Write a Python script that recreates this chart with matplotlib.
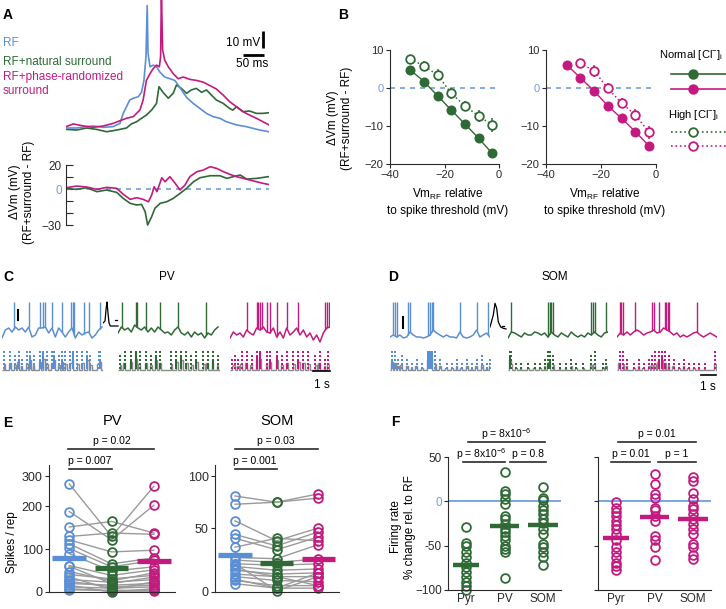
import numpy as np
import matplotlib
matplotlib.use('Agg')
import matplotlib.pyplot as plt

plt.rcParams['font.family'] = ['Liberation Sans', 'DejaVu Sans']
plt.rcParams['mathtext.default'] = 'regular'
plt.rcParams['axes.linewidth'] = 0.8

W, H = 726, 609
BLUE = '#5b8fd5'; GREEN = '#2f6a36'; MAG = '#c41a80'; ZB = '#6f9fdc'
GRAY = '#9a9a9a'; DARK = '#2a2a2a'

# ---------------- Panel A data (ms, mV) ----------------
a_blue_t = [0, 26, 51, 67, 92, 116, 133, 141, 149, 157, 166, 178, 186, 192, 197, 200, 202, 207, 215, 223,
            231, 243, 256, 268, 280, 297, 313, 330, 346, 362, 379, 395, 420, 444, 477, 500]
a_blue_v = [0, 0, 0.8, 1.2, 0.4, 0.8, 2.7, 8.6, 12.5, 16.5, 17.5, 18.4, 21, 28, 42, 72, 44, 36, 37, 36,
            33, 30, 29, 28, 24, 18, 14.5, 11.5, 8.6, 6.7, 5.7, 3.7, 1.8, 0.8, -1.2, -2.2]
a_mag_t = [0, 18, 43, 67, 92, 116, 133, 149, 166, 182, 190, 198, 207, 215, 223, 230, 233, 235, 238, 243,
           252, 264, 276, 289, 305, 321, 338, 354, 370, 387, 403, 420, 436, 452, 469, 485, 500]
a_mag_v = [0.8, 2.4, 1.2, 0.4, 1.2, 2.7, 4.3, 5.7, 6.7, 10.6, 16.5, 28, 32, 35, 37, 36, 42, 80, 46, 40,
           36, 32, 29, 30, 28.6, 28, 27, 25, 23, 19.4, 15.5, 12.5, 9.6, 7.6, 5.7, 3.7, 1.8]
a_green_t = [0, 26, 51, 75, 100, 125, 149, 161, 174, 186, 198, 211, 223, 229, 239, 252, 264, 272, 284, 297,
             309, 321, 334, 346, 358, 370, 387, 403, 411, 420, 436, 452, 469, 485, 500]
a_green_v = [-0.8, -1.2, 0, -0.8, -2.2, -1.2, 0, 2.4, 3.7, 5.7, 7.6, 10.6, 14.5, 24.3, 21, 17.5, 20.4, 25.3, 23.3, 20.4,
             22.4, 23.3, 21, 22.4, 19.4, 16.5, 14.5, 11.5, 10.5, 12.5, 9.6, 10, 8.6, 8.6, 9]

d_green_t = [0, 26, 51, 76, 100, 125, 141, 158, 174, 186, 195, 201, 211, 219, 232, 248, 264, 281, 297, 314,
             330, 355, 379, 396, 412, 429, 445, 470, 498]
d_green_v = [0.6, -0.3, 1.1, -2.2, -0.8, -2.8, -7.8, -11.9, -13.3, -12.8, -18.9, -30, -23, -16, -11.9, -10.6,
             -7.8, -3.6, 0.6, 6.1, 9.4, 11.1, 11.1, 8.9, 10.3, 11.7, 8.3, 8.9, 10.3]
d_mag_t = [0, 26, 51, 76, 100, 125, 141, 158, 174, 190, 203, 211, 217, 224, 236, 244, 256, 269, 281, 293,
           305, 322, 338, 355, 371, 388, 404, 420, 437, 462, 486, 498]
d_mag_v = [1.1, 2.5, 1.7, -0.3, 1.4, 0.6, -4.4, -8.6, -7.2, -8.6, -10.6, -5, 1.9, -2.2, 9.4, 6.1, 10.3, 4.7,
           -0.8, 3.3, 10.3, 14.4, 15.8, 18.6, 17.2, 14.4, 12.2, 10.3, 8.9, 6.7, 4.7, 3.9]

# ---------------- Panel B data ----------------
b_x = [-32.5, -27.5, -22.5, -17.5, -12.5, -7.5, -2.5]
b_green_norm = [4.7, 1.7, -2.1, -5.8, -9.5, -13.2, -17.2]
b_green_high = [7.6, 5.8, 3.4, -1.4, -4.7, -7.4, -9.7]
b_green_err = [1.2, 1.2, 1.5, 1.5, 1.3, 1.5, 1.8]
b_mag_norm = [6.1, 2.7, -0.8, -4.7, -8.0, -11.5, -15.3]
b_x_mag_high = [-27.5, -22.5, -17.5, -12.5, -7.5, -2.5]
b_mag_high = [6.5, 4.5, -0.1, -4.0, -7.1, -11.7]
b_mag_err = [1.0, 1.5, 1.3, 1.3, 1.5, 1.8]

# ---------------- Panel C / D data ----------------
c_dt = 0.196
c_blue_base = [-3, 5, 7, 3, 8, 5, 7, 3, 8, -2, 0, 7, 7, 8, 2, 7, -2, 7, 3, -2, 3, 7, -3, 3, 0, 2, 3, -3, 0, 5, 8]
c_blue_spk = [0.69, 1.57, 2.25, 2.41, 2.55, 2.94, 3.53, 4.06, 4.18, 4.25, 4.80, 5.10, 5.78]
c_green_base = [2, 8, 5, 7, 3, 10, 7, 5, 8, 3, 7, 3, 8, 5, 2, 3, 0, 5, 8, 2, 0, 3, -2, 3, 0, 2, -3, 2, 0, 5, 8]
c_green_spk = [0.25, 1.08, 1.12, 1.67, 2.45, 3.53, 5.2]
c_mag_base = [-3, 3, 0, 2, -2, 5, 2, 0, 7, 5, 8, 3, 2, 7, -2, 3, -3, 7, 0, 3, 7, 0, 5, -2, 2, -5, 0, -7, 2, 7, 8]
c_mag_spk = [0.98, 1.57, 1.67, 1.76, 1.86, 2.16, 2.35, 2.75, 3.33, 4.02, 5.59, 5.73, 5.84]

d_dt = 0.222
d_blue_base = [-2, 0, -2, 0, -3, -2, 3, 0, -2, -2, -3, -2, 0, 5, 2, 0, -2, 0, -2, -2, -3, 3, -2, -3, -2, 0, 5, -2, 0, 2, -2]
d_blue_spk = [0.22, 0.33, 0.44, 1.22, 1.33, 2.56, 2.67, 2.78, 2.89, 4.67, 5.78, 6.56]
d_green_base = [-3, 3, 2, 0, -2, 2, 0, 0, 3, 2, 0, 2, -2, 3, 0, -2, 2, 0, -2, 3, 0, -2, 0, -2, 2, 0, 3, 0, -2, 2, 3]
d_green_spk = [0.22, 2.67, 2.78, 2.89, 3.0, 5.56, 5.67, 5.78, 6.56]
d_mag_base = [-2, 2, 0, 3, 0, 3, 5, 3, 0, 2, 3, 5, 2, 3, 7, 5, 3, 0, 2, -2, 0, -2, 0, 2, 3, 0, -2, 0, 2, 0, -2]
d_mag_spk = [0.18, 0.27, 0.4, 1.22, 2.33, 2.44, 2.78, 3.22, 3.29, 3.38, 3.49, 5.33]

c_blue_ev = [0.14, 0.49, 0.78, 0.98, 1.18, 1.47, 1.67, 1.86, 2.25, 2.41, 2.65, 2.94, 3.04, 3.33, 3.53, 3.73,
             4.02, 4.18, 4.41, 4.71, 5.0, 5.2, 5.69, 5.78]
c_blue_n = [5, 6, 4, 7, 3, 5, 8, 4, 7, 9, 5, 6, 8, 4, 7, 5, 6, 9, 5, 6, 8, 4, 5, 7]
c_green_ev = [0.1, 0.39, 0.78, 1.08, 1.27, 1.67, 1.96, 2.25, 2.45, 3.14, 3.43, 3.73, 4.02, 4.31, 4.61, 5.0,
              5.29, 5.59, 5.88]
c_green_n = [4, 6, 7, 9, 5, 6, 4, 8, 6, 5, 7, 8, 6, 4, 7, 5, 6, 7, 4]
c_mag_ev = [0.1, 0.29, 0.49, 0.69, 0.98, 1.27, 1.57, 1.76, 2.16, 2.35, 2.75, 3.04, 3.33, 3.73, 4.02, 4.31,
            4.61, 5.0, 5.29, 5.59, 5.78]
c_mag_n = [3, 4, 3, 5, 6, 4, 8, 9, 5, 7, 8, 4, 6, 5, 7, 6, 5, 4, 6, 3, 5]
d_blue_ev = [0.11, 0.33, 0.56, 0.78, 1.11, 1.44, 1.78, 2.11, 2.56, 2.67, 2.78, 3.0, 3.33, 3.78, 4.11, 4.44,
             4.78, 5.11, 5.44, 5.78, 6.11, 6.44, 6.67]
d_blue_n = [7, 6, 3, 4, 3, 2, 3, 2, 9, 9, 9, 5, 3, 2, 2, 3, 2, 3, 2, 3, 4, 2, 3]
d_green_ev = [0.11, 0.22, 0.56, 0.89, 1.33, 1.78, 2.11, 2.44, 2.67, 2.78, 3.0, 3.44, 3.89, 4.22, 4.56, 5.0,
              5.56, 5.78, 6.33, 6.56]
d_green_n = [8, 5, 2, 2, 2, 2, 2, 3, 6, 7, 4, 2, 2, 3, 2, 2, 4, 5, 2, 3]
d_mag_ev = [0.18, 0.4, 0.67, 1.11, 1.44, 1.78, 2.11, 2.33, 2.56, 2.78, 3.0, 3.22, 3.44, 3.78, 4.11, 4.44,
            4.78, 5.11, 5.44, 5.89, 6.56]
d_mag_n = [6, 5, 3, 2, 3, 2, 3, 4, 5, 7, 8, 6, 4, 3, 2, 3, 2, 2, 2, 2, 5]

c_wave_t = [0, 2, 3.3, 4, 5, 6, 7.3, 10, 15]
c_wave_v = [12, 14, 28, 33, 22, 12, 9, 9, 9]
d_wave_t = [0, 3.3, 5, 6.7, 8.3, 10.7, 13.3, 16]
d_wave_v = [8, 20, 31.7, 26.7, 13, 8, 6.7, 6]

# ---------------- Panel E data (spikes / rep) ----------------
pv_rf = [275, 188, 152, 130, 122, 113, 102, 90, 62, 41, 29, 20, 12, 5, 16, 25, 35, 60, 8, 48]
pv_nat = [130, 122, 165, 138, 94, 66, 59, 49, 39, 31, 23, 16, 9, 4, 0, 12, 6, 20, 2, 26]
pv_rand = [267, 204, 138, 135, 98, 80, 74, 59, 52, 39, 29, 20, 12, 4, 8, 16, 24, 35, 2, 45]
pv_means = [80, 57, 72]
som_rf = [81, 73, 57, 45, 42, 35, 27, 25, 22, 20, 17, 14, 12, 9, 6.5, 22, 18, 10]
som_nat = [75, 75, 40, 36, 33, 42, 26, 23, 21, 17, 14, 12, 9, 5, 3, 1, 12, 3]
som_rand = [83, 79, 50, 47, 43, 40, 37, 26, 22, 18, 15, 12, 8, 5, 3, 12, 5, 15]
som_means = [28.6, 23, 25.5]

# ---------------- Panel F data (% change) ----------------
f_cats = ['Pyr', 'PV', 'SOM']
f_green_pyr = [-29, -47, -50, -57, -63, -70, -74, -80, -85, -91, -95, -100]
f_green_pv = [33, 12, 8, 3, -3, -16, -20, -25, -31, -35, -39, -44, -50, -54, -57, -87]
f_green_som = [16, 4, 2, -5, -10, -14, -20, -24, -31, -37, -48, -52, -57, -63, -72]
f_green_means = [-72, -28, -27]
f_mag_pyr = [-1, -7, -12, -16, -22, -27, -31, -37, -44, -52, -57, -63, -69, -73, -78]
f_mag_pv = [31, 19, 8, 4, -7, -10, -16, -22, -39, -44, -52, -66]
f_mag_som = [27, 23, 9, 3, -5, -9, -14, -20, -25, -31, -37, -48, -52, -61, -65]
f_mag_means = [-41, -18, -20]

# =====================================================
fig = plt.figure(figsize=(W / 100, H / 100), dpi=100)


def add_ax(x0, y0, x1, y1):
    return fig.add_axes([x0 / W, 1 - y1 / H, (x1 - x0) / W, (y1 - y0) / H])


def clean(ax):
    for s in ax.spines.values():
        s.set_visible(False)
    ax.set_xticks([]); ax.set_yticks([])
    ax.patch.set_alpha(0)


def style(ax):
    ax.spines['top'].set_visible(False)
    ax.spines['right'].set_visible(False)
    for s in ax.spines.values():
        s.set_color(DARK)
    ax.tick_params(direction='out', length=3, width=0.8, labelsize=8, pad=1.5, colors=DARK)
    ax.patch.set_alpha(0)


# ---- Panel A top
axA = add_ax(66, 0, 269, 140)
clean(axA)
axA.set_xlim(0, 500); axA.set_ylim(-7.06, 75.3)
axA.plot(a_green_t, a_green_v, color=GREEN, lw=1.2)
axA.plot(a_blue_t, a_blue_v, color=BLUE, lw=1.2)
axA.plot(a_mag_t, a_mag_v, color=MAG, lw=1.2)
axA.plot([485, 485], [47, 57], color='k', lw=2, solid_capstyle='butt')
axA.plot([437, 487], [43, 43], color='k', lw=2, solid_capstyle='butt')

# ---- Panel A bottom
axAb = add_ax(66, 160, 269, 232)
axAb.set_xlim(0, 500); axAb.set_ylim(-35.8, 24.2)
for s in ['top', 'right', 'bottom']:
    axAb.spines[s].set_visible(False)
axAb.spines['left'].set_bounds(-30, 20)
axAb.spines['left'].set_color(DARK)
axAb.set_xticks([])
axAb.set_yticks([-30, -20, -10, 0, 10, 20])
axAb.set_yticklabels(['\u221230', '', '', '0', '', '20'])
axAb.tick_params(axis='y', direction='in', length=5, width=0.8, labelsize=8.5, pad=3, colors=DARK)
axAb.get_yticklabels()[3].set_color(ZB)
axAb.patch.set_alpha(0)
axAb.axhline(0, color=ZB, lw=1.2, dashes=(3, 3))
axAb.plot(d_green_t, d_green_v, color=GREEN, lw=1.2)
axAb.plot(d_mag_t, d_mag_v, color=MAG, lw=1.2)

# ---- Panel B
def panelB(x0, x1, xn, yn, xh, yh, eh, col):
    ax = add_ax(x0, 50, x1, 164)
    style(ax)
    ax.set_xlim(-40, 0); ax.set_ylim(-20, 10)
    ax.set_xticks([-40, -20, 0]); ax.set_yticks([-20, -10, 0, 10])
    ax.set_xticklabels(['\u221240', '\u221220', '0'])
    ax.set_yticklabels(['\u221220', '\u221210', '0', '10'])
    ax.get_yticklabels()[2].set_color(ZB)
    ax.axhline(0, color=ZB, lw=1.2, dashes=(3, 3), zorder=0)
    ax.errorbar(xh, yh, yerr=eh, fmt='o', ls=':', color=col, mfc='white', mec=col, ms=6.2, mew=1.3,
                lw=1.1, elinewidth=1.1, capsize=0, zorder=3, clip_on=False)
    ax.plot(xn, yn, '-o', color=col, ms=6.2, lw=1.0, zorder=4, clip_on=False)
    return ax

panelB(390, 499, b_x, b_green_norm, b_x, b_green_high, b_green_err, GREEN)
panelB(546, 656, b_x, b_mag_norm, b_x_mag_high, b_mag_high, b_mag_err, MAG)


# ---- Panels C / D
def trace(x0, x1, base, dt, spk, col, tmax):
    ax = add_ax(x0, 298, x1, 345)
    clean(ax)
    t = np.arange(len(base)) * dt
    ax.set_xlim(0, tmax); ax.set_ylim(-10, 37)
    ax.plot(t, base, color=col, lw=1.1)
    ax.vlines(spk, np.interp(spk, t, base), 33, color=col, lw=1.0)
    return ax


def raster(x0, x1, ev, n, col, tmax):
    ax = add_ax(x0, 348, x1, 374)
    clean(ax)
    ax.set_xlim(0, tmax); ax.set_ylim(26, 0)
    order = [8, 6, 4, 2, 0, 7, 5, 3, 1]
    for tt, k in zip(ev, n):
        rows = [4 + 2 * r for r in order[:k]]
        ax.plot([tt] * k, rows, 's', color=col, ms=1.8, mew=0, clip_on=False)
    h, edges = np.histogram(ev, bins=np.arange(0, tmax + 0.1, 0.1), weights=n)
    ax.stairs(22 - 1.2 * h, edges, baseline=None, color='#8a8a8a', lw=1.0)
    return ax

axcb = trace(2, 103, c_blue_base, c_dt, c_blue_spk, BLUE, 5.94)
axcb.plot([0.94, 0.94], [15, 25], color='k', lw=1.5)
trace(118, 220, c_green_base, c_dt, c_green_spk, GREEN, 6.0)
trace(230, 330, c_mag_base, c_dt, c_mag_spk, MAG, 5.88)
raster(2, 103, c_blue_ev, c_blue_n, BLUE, 5.94)
raster(118, 220, c_green_ev, c_green_n, GREEN, 6.0)
axcr = raster(230, 330, c_mag_ev, c_mag_n, MAG, 5.88)
axcr.plot([4.88, 5.88], [23, 23], color='k', lw=1.2, clip_on=False)

axcw = add_ax(103, 298, 119, 345); clean(axcw)
axcw.set_xlim(0, 16); axcw.set_ylim(-10, 37)
axcw.plot(c_wave_t, c_wave_v, color='k', lw=0.9)
axcw.plot([12, 14], [15, 15], color='k', lw=0.9)

axdb = trace(390, 490, d_blue_base, d_dt, d_blue_spk, BLUE, 6.67)
axdb.plot([0.87, 0.87], [7, 18], color='k', lw=1.5)
trace(508, 608, d_green_base, d_dt, d_green_spk, GREEN, 6.67)
trace(617, 717, d_mag_base, d_dt, d_mag_spk, MAG, 6.67)
raster(390, 490, d_blue_ev, d_blue_n, BLUE, 6.67)
raster(508, 608, d_green_ev, d_green_n, GREEN, 6.67)
axdr = raster(617, 717, d_mag_ev, d_mag_n, MAG, 6.67)
axdr.plot([5.6, 6.6], [27, 27], color='k', lw=1.2, clip_on=False)

axdw = add_ax(490, 298, 507, 345); clean(axdw)
axdw.set_xlim(0, 17); axdw.set_ylim(-10, 37)
axdw.plot(d_wave_t, d_wave_v, color='k', lw=0.9)
axdw.plot([11.5, 13.5], [9, 9], color='k', lw=0.9)


# ---- Panel E
def panelE(x0, x1, cats, means, vals, pos, top, ticks):
    ax = add_ax(x0, 465, x1, 592)
    style(ax)
    fwd = lambda v: np.interp(v, vals, pos)
    inv = lambda p: np.interp(p, pos, vals)
    ax.set_yscale('function', functions=(fwd, inv))
    ax.set_ylim(0, top)
    ax.set_xlim(-0.48, 2.5)
    ax.set_xticks([])
    ax.set_yticks(ticks)
    ax.set_yticklabels([str(t) for t in ticks])
    ax.tick_params(axis='y', labelsize=9)
    a, b, c = cats
    for i in range(len(a)):
        ax.plot([0, 1, 2], [a[i], b[i], c[i]], color=GRAY, lw=1.0, zorder=1, clip_on=False)
    for k, (arr, col) in enumerate(zip(cats, [BLUE, GREEN, MAG])):
        ax.plot([k] * len(arr), arr, 'o', mfc='none', mec=col, ms=6.3, mew=1.3, zorder=2, clip_on=False)
        ax.plot([k - 0.4, k + 0.4], [means[k], means[k]], color=col, lw=3.8, solid_capstyle='butt', zorder=3)
    return ax

panelE(49, 175, [pv_rf, pv_nat, pv_rand], pv_means, [-100, 0, 100, 200, 300, 1000],
       [-128, 0, 128, 257, 347, 977], 338, [0, 100, 200, 300])
panelE(215, 339, [som_rf, som_nat, som_rand], som_means, [-50, 0, 50, 100, 500],
       [-192, 0, 192, 347, 1587], 111, [0, 50, 100])


# ---- Panel F
def panelF(x0, x1, groups, means, col, labels):
    ax = add_ax(x0, 457, x1, 590)
    style(ax)
    ax.set_ylim(-100, 50); ax.set_xlim(-0.47, 2.47)
    ax.set_yticks([-100, -50, 0, 50])
    if labels:
        ax.set_yticklabels(['\u2212100', '-50', '0', '50'])
        ax.get_yticklabels()[2].set_color(ZB)
    else:
        ax.set_yticklabels([])
    ax.set_xticks([0, 1, 2]); ax.set_xticklabels(f_cats)
    ax.tick_params(axis='x', length=0, labelsize=8.5, pad=2)
    ax.tick_params(axis='y', labelsize=8.5)
    ax.axhline(0, color=ZB, lw=1.3, zorder=0)
    for k, arr in enumerate(groups):
        ax.plot([k] * len(arr), arr, 'o', mfc='none', mec=col, ms=6.3, mew=1.3, zorder=2, clip_on=False)
        w = 0.33 if k == 0 else 0.39
        ax.plot([k - w, k + w], [means[k], means[k]], color=col, lw=3.2, solid_capstyle='butt', zorder=3)
    return ax

panelF(448, 561, [f_green_pyr, f_green_pv, f_green_som], f_green_means, GREEN, True)
panelF(598, 711, [f_mag_pyr, f_mag_pv, f_mag_som], f_mag_means, MAG, False)

# ---- overlay: text, brackets, legend
ov = fig.add_axes([0, 0, 1, 1])
ov.set_xlim(0, W); ov.set_ylim(H, 0); ov.axis('off')


def T(x, y, s, **kw):
    kw.setdefault('fontsize', 8.5)
    kw.setdefault('ha', 'center'); kw.setdefault('va', 'center')
    ov.text(x, y, s, **kw)

for lab, x, y in [('A', 8, 15), ('B', 343, 15), ('C', 8, 277), ('D', 393, 277), ('E', 8, 423), ('F', 395, 422)]:
    T(x, y, lab, fontsize=10, fontweight='bold')

T(3, 43, 'RF', color=BLUE, ha='left')
T(3, 62, 'RF+natural surround', color=GREEN, ha='left')
T(3, 77, 'RF+phase-randomized', color=MAG, ha='left')
T(3, 91, 'surround', color=MAG, ha='left')
T(260, 43, '10 mV', ha='right', fontsize=8.5)
T(252, 64, '50 ms', fontsize=8.5)
T(22, 192, '\u0394Vm (mV)\n(RF+surround - RF)', rotation=90, linespacing=1.15)
T(340, 118, '\u0394Vm (mV)\n(RF+surround - RF)', rotation=90, linespacing=1.15)
T(448, 202, 'Vm$_{RF}$ relative\nto spike threshold (mV)', linespacing=1.3)
T(605, 202, 'Vm$_{RF}$ relative\nto spike threshold (mV)', linespacing=1.3)

# B legend
T(659, 55, 'Normal [Cl$^{-}$]$_{i}$', ha='left', fontsize=8)
T(668, 115, 'High [Cl$^{-}$]$_{i}$', ha='left', fontsize=8)
for yy, col in [(74, GREEN), (89, MAG)]:
    ov.plot([671, 730], [yy, yy], color=col, lw=1.2)
    ov.plot([693], [yy], 'o', color=col, ms=6.5)
for yy, col in [(132, GREEN), (146, MAG)]:
    ov.plot([671, 730], [yy, yy], color=col, lw=1.2, ls=':')
    ov.plot([693], [yy], 'o', mfc='white', mec=col, ms=6.2, mew=1.3)

T(167, 277, 'PV', fontsize=8.5)
T(555, 277, 'SOM', fontsize=8.5)
T(322, 385, '1 s', fontsize=8.5)
T(708, 387, '1 s', fontsize=8.5)

# E
T(112, 421, 'PV', fontsize=10.5)
T(277, 421, 'SOM', fontsize=10.5)
T(12, 542, 'Spikes / rep', rotation=90)
T(403, 527, 'Firing rate\n% change rel. to RF', rotation=90, linespacing=1.15)

brackets = [
    (68, 154, 449, 'p = 0.02', 112), (69, 112, 469, 'p = 0.007', 90),
    (235, 318, 449, 'p = 0.03', 276), (235, 277, 469, 'p = 0.001', 255),
    (468, 545, 442, 'p = 8x10$^{-6}$', 506), (463, 505, 462, 'p = 8x10$^{-6}$', 481),
    (510, 546, 462, 'p = 0.8', 528),
    (618, 696, 442, 'p = 0.01', 657), (611, 650, 462, 'p = 0.01', 631), (658, 696, 462, 'p = 1', 677),
]
for xa, xb, yy, s, xt in brackets:
    ov.plot([xa, xb], [yy, yy], color=DARK, lw=1.2)
    T(xt, yy - 8, s, fontsize=7.5)

fig.savefig('out.png', dpi=100)
